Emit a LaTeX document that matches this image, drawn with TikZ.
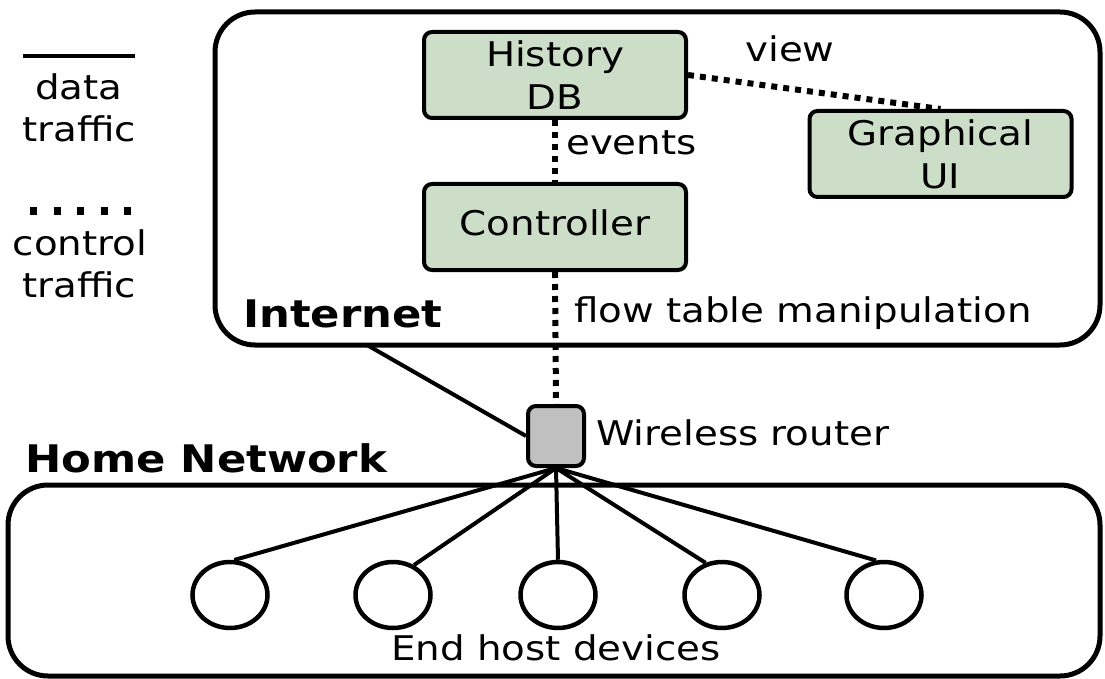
\documentclass[tikz,border=0pt]{standalone}
\usepackage{fontspec}
\setmainfont{DejaVu Sans}[FakeStretch=1.14]
\usetikzlibrary{shapes.geometric}
\definecolor{boxgreen}{RGB}{204,222,200}
\definecolor{routergray}{RGB}{192,192,192}
\begin{document}
\begin{tikzpicture}[x=1pt,y=-1pt,
  txt/.style={inner sep=0pt, font=\fontsize{34}{40}\selectfont},
  boldtxt/.style={inner sep=0pt, font=\fontsize{38}{44}\selectfont\bfseries},
  comp/.style={draw, line width=4pt, fill=boxgreen, rounded corners=8pt,
    minimum width=262pt, minimum height=86pt, align=center, inner sep=0pt,
    font=\fontsize{34}{40}\selectfont},
  region/.style={draw, line width=5pt, rounded corners=40pt, inner sep=0pt},
  datalink/.style={line width=4pt},
  ctrllink/.style={line width=6pt, dash pattern=on 6pt off 6pt},
  host/.style={draw, ellipse, line width=4.5pt, minimum width=75pt,
    minimum height=66pt, inner sep=0pt},
]
\useasboundingbox (0,0) rectangle (1105,679);

% regions
\node[region, minimum width=885pt, minimum height=333pt] (inet) at (657.5,178.5) {};
\node[region, minimum width=1092pt, minimum height=191pt] (home) at (554,580.5) {};

% legend
\coordinate (l1a) at (23,56);
\coordinate (l1b) at (135,56);
\draw[line width=4pt] (l1a) -- (l1b);
\node[txt, anchor=base] (ld1) at (79,100) {data};
\node[txt, anchor=base] (ld2) at (79,142) {traffic};
\coordinate (l2a) at (30,211);
\coordinate (l2b) at (131,211);
\draw[line width=7pt, dash pattern=on 7pt off 16.5pt] (l2a) -- (l2b);
\node[txt, anchor=base] (lc1) at (80,255) {control};
\node[txt, anchor=base] (lc2) at (79,297) {traffic};

% components
\node[comp] (hist) at (555,75) {History\\[3pt]DB};
\node[comp, text depth=9pt] (ctrl) at (555,227) {Controller};
\node[comp] (gui) at (940.5,154) {Graphical\\[3pt]UI};

% router
\node[draw, line width=4pt, fill=routergray, rounded corners=8pt,
  minimum width=56pt, minimum height=60pt, inner sep=0pt] (router) at (556,436) {};

% hosts
\node[host] (c1) at (230,595) {};
\node[host] (c2) at (393,595) {};
\node[host] (c3) at (558,595) {};
\node[host] (c4) at (722,595) {};
\node[host] (c5) at (884,595) {};

% control links
\draw[ctrllink] (hist.south) -- (ctrl.north);
\draw[ctrllink] (ctrl.south) -- (router.north);
\draw[ctrllink] (hist.east) -- (gui.north);

% data links
\coordinate (ia) at (367,345);
\draw[datalink] (ia) -- (router.west);
\draw[datalink] (router.south) -- (c1.83);
\draw[datalink] (router.south) -- (c2.55);
\draw[datalink] (router.south) -- (c3.90);
\draw[datalink] (router.south) -- (c4.117);
\draw[datalink] (router.south) -- (c5.103);

% labels
\node[boldtxt, anchor=base west] (lint) at (243,327) {Internet};
\node[boldtxt, anchor=base west] (lhome) at (25,472) {Home Network};
\node[txt, anchor=base west] (lrouter) at (596,445) {Wireless router};
\node[txt, anchor=base] (lhosts) at (556,660) {End host devices};
\node[txt, anchor=base west] (lflow) at (574,322) {flow table manipulation};
\node[txt, anchor=base west] (levents) at (566,155) {events};
\node[txt, anchor=base] (lview) at (790,62) {view};
\end{tikzpicture}
\end{document}
